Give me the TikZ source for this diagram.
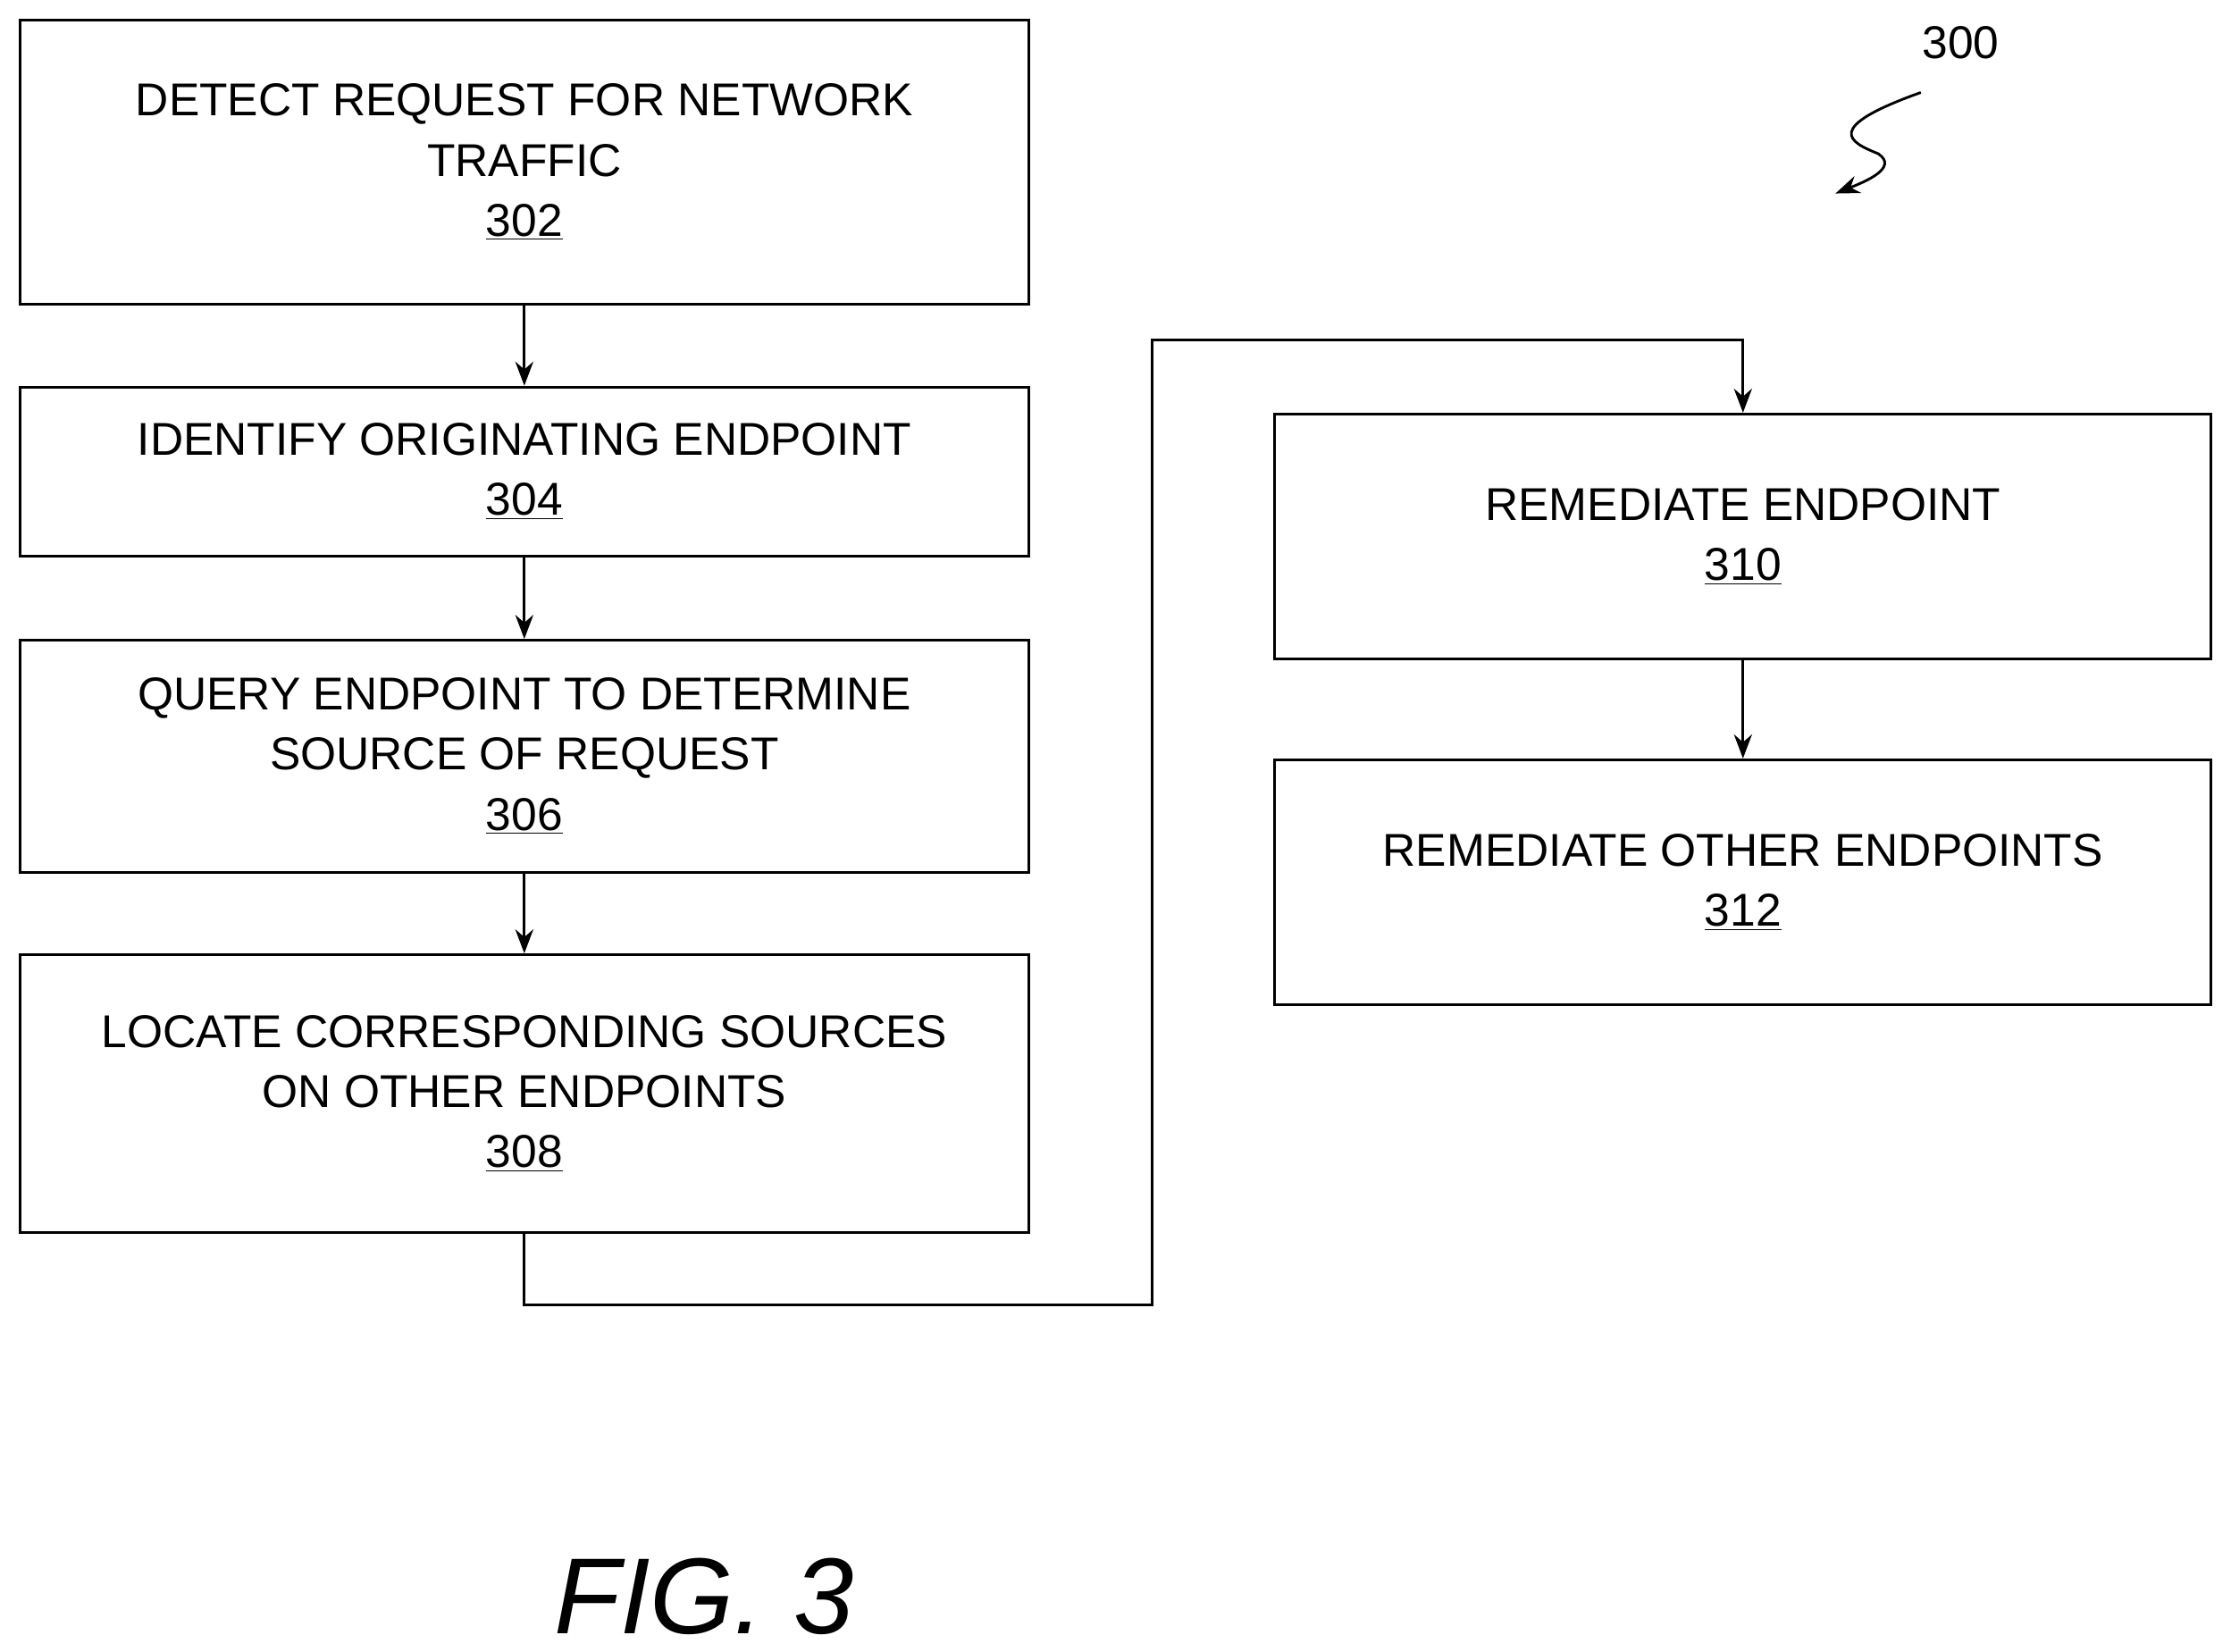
\documentclass[tikz,border=0pt]{standalone}
\usepackage{fontspec}
\setmainfont{Liberation Sans}
\usetikzlibrary{arrows.meta}
\begin{document}
\begin{tikzpicture}[x=0.025cm,y=-0.025cm,
  box/.style={draw, line width=1.3pt, align=center, inner sep=0pt, minimum width=17.725cm, font=\fontsize{23}{30}\selectfont},
  rbox/.style={box, minimum width=16.45cm, minimum height=4.3cm},
  arr/.style={line width=1.3pt, -{Stealth[length=12pt,width=9pt]}}]
	\useasboundingbox (0,0) rectangle (1568,1161);
	
	\node [box, minimum height=5cm] (s302) at (368.5,114) {DETECT REQUEST FOR NETWORK\\TRAFFIC\\\underline{302}};
	\node [box, minimum height=2.975cm] (s304) at (368.5,331.5) {IDENTIFY ORIGINATING ENDPOINT\\\underline{304}};
	\node [box, minimum height=4.075cm] (s306) at (368.5,531.5) {QUERY ENDPOINT TO DETERMINE\\SOURCE OF REQUEST\\\underline{306}};
	\node [box, minimum height=4.875cm] (s308) at (368.5,768.5) {LOCATE CORRESPONDING SOURCES\\ON OTHER ENDPOINTS\\\underline{308}};
	\node [rbox] (s310) at (1225,377) {REMEDIATE ENDPOINT\\\underline{310}};
	\node [rbox] (s312) at (1225,620) {REMEDIATE OTHER ENDPOINTS\\\underline{312}};
	
	\coordinate (c1) at (810,917);
	\coordinate (c2) at (810,239);
	
	\draw [arr] (s302) -- (s304);
	\draw [arr] (s304) -- (s306);
	\draw [arr] (s306) -- (s308);
	\draw [arr] (s308.south) |- (c1) -- (c2) -| (s310.north);
	\draw [arr] (s310) -- (s312);
	
	% figure number
	\node [font=\fontsize{23}{28}\selectfont] (n300) at (1378,30) {300};
	\coordinate (t300) at (1290,136);
	\draw [arr] (1350,65) .. controls (1280,90) and (1300,100) .. (1320,108) .. controls (1335,118) and (1310,128) .. (t300);
	\node [font=\fontsize{54}{60}\itshape] (fig) at (495,1122) {FIG. 3};
\end{tikzpicture}
\end{document}
